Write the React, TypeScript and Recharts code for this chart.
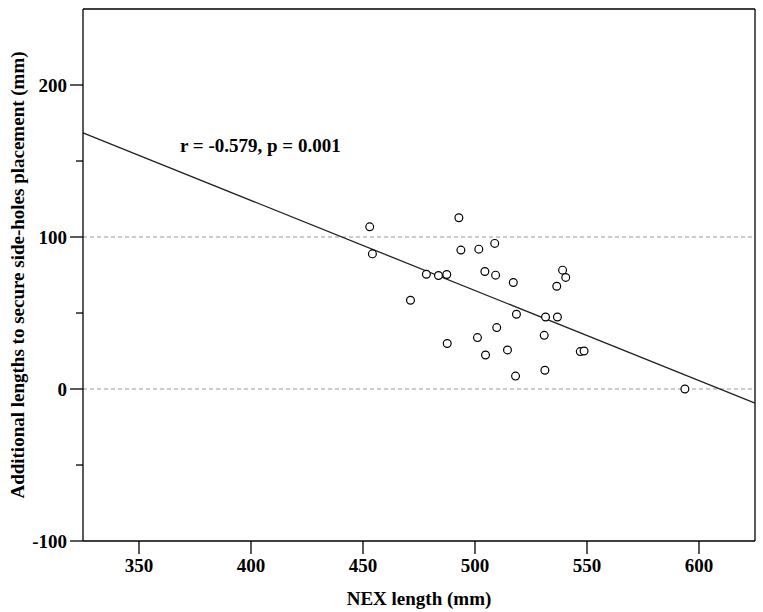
import React from 'react';
import { ComposedChart, Scatter, XAxis, YAxis, ReferenceLine, Label } from 'recharts';

const nexLength = [453.0, 454.2, 492.8, 493.7, 501.7, 508.8, 478.3, 483.7, 487.4, 471.2, 504.4, 509.2, 517.1, 539.1, 540.5, 536.5, 518.5, 531.5, 536.8, 509.7, 501.1, 530.9, 487.6, 514.5, 504.7, 547.0, 548.7, 518.1, 531.2, 593.7];
const additionalLength = [106.7, 88.9, 112.7, 91.4, 92.0, 95.8, 75.5, 74.7, 75.3, 58.4, 77.3, 74.9, 70.1, 78.2, 73.4, 67.6, 49.2, 47.4, 47.4, 40.4, 33.8, 35.3, 29.9, 25.7, 22.4, 24.6, 25.0, 8.5, 12.3, 0.0];
const regressionLine = [{ x: 325, y: 168.5 }, { x: 625, y: -9.3 }];
const xTicks = [350, 400, 450, 500, 550, 600];
const yTicks = [-100, -50, 0, 50, 100, 150, 200];
const yMajor = [-100, 0, 100, 200];
const referenceLevels = [0, 100];
const annotation = 'r = -0.579, p = 0.001';
const xTitle = 'NEX length (mm)';
const yTitle = 'Additional lengths to secure side-holes placement (mm)';

const points = nexLength.map((x, i) => ({ x, y: additionalLength[i] }));

const FONT = '"Liberation Serif", "Times New Roman", serif';

const YTick = (props: any) => {
  const { x, y, payload } = props;
  const axisX = x + 16;
  const major = yMajor.includes(payload.value);
  const len = major ? 13 : 7;
  return (
    <g>
      <line x1={axisX - len} x2={axisX} y1={y} y2={y} stroke="#000" strokeWidth={1.3} />
      {major && (
        <text x={x} y={y} textAnchor="end" dominantBaseline="central" fontFamily={FONT} fontWeight="bold" fontSize={19} fill="#000">
          {payload.value}
        </text>
      )}
    </g>
  );
};

const Circle = (props: any) => {
  const { cx, cy } = props;
  return <circle cx={cx} cy={cy} r={3.9} fill="#fff" stroke="#000" strokeWidth={1.2} />;
};

export default function App() {
  return (
    <div style={{ position: 'absolute', left: 0, top: 0 }}>
      <ComposedChart width={763} height={612} margin={{ top: 9, right: 8, bottom: 0, left: 0 }} data={points}>
        <XAxis
          type="number"
          dataKey="x"
          domain={[325, 625]}
          ticks={xTicks}
          allowDataOverflow
          height={71}
          tickSize={13}
          tickMargin={5}
          axisLine={{ stroke: '#000', strokeWidth: 1.3 }}
          tickLine={{ stroke: '#000', strokeWidth: 1.3 }}
          tick={{ fill: '#000', fontFamily: FONT, fontWeight: 'bold', fontSize: 19 }}
        >
          <Label
            content={(p: any) => {
              const vb = p.viewBox;
              return (
                <text x={vb.x + vb.width / 2} y={605} textAnchor="middle" fontFamily={FONT} fontWeight="bold" fontSize={19} fill="#000">
                  {xTitle}
                </text>
              );
            }}
          />
        </XAxis>
        <YAxis
          type="number"
          dataKey="y"
          domain={[-100, 250]}
          ticks={yTicks}
          allowDataOverflow
          width={83}
          tickSize={13}
          tickMargin={3}
          tickLine={false}
          axisLine={{ stroke: '#000', strokeWidth: 1.3 }}
          tick={<YTick />}
        >
          <Label
            content={(p: any) => {
              const vb = p.viewBox;
              const cy = vb.y + vb.height / 2;
              return (
                <text x={17} y={cy} transform={`rotate(-90, 17, ${cy})`} textAnchor="middle" dominantBaseline="central" fontFamily={FONT} fontWeight="bold" fontSize={19} fill="#000">
                  {yTitle}
                </text>
              );
            }}
          />
        </YAxis>
        {referenceLevels.map((v) => (
          <ReferenceLine key={v} y={v} stroke="#9a9a9a" strokeWidth={1.2} strokeDasharray="4 3" ifOverflow="visible" />
        ))}
        <ReferenceLine y={250} stroke="#000" strokeWidth={1.3} ifOverflow="visible" />
        <ReferenceLine x={625} stroke="#000" strokeWidth={1.3} ifOverflow="visible" />
        <ReferenceLine segment={regressionLine} stroke="#222" strokeWidth={1.3} ifOverflow="visible" />
        <Scatter dataKey="y" data={points} shape={<Circle />} isAnimationActive={false} />
        <text x={180} y={145} dominantBaseline="central" fontFamily={FONT} fontWeight="bold" fontSize={19} fill="#000">
          {annotation}
        </text>
      </ComposedChart>
    </div>
  );
}
